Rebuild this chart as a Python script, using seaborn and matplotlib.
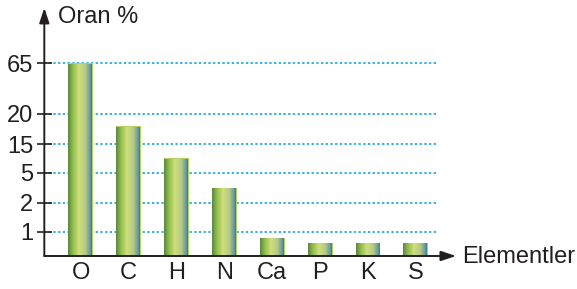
import numpy as np
import pandas as pd
import matplotlib
matplotlib.use("Agg")
import matplotlib.pyplot as plt
import seaborn as sns
from matplotlib.colors import LinearSegmentedColormap

# ---- data ----
elements = ["O", "C", "H", "N", "Ca", "P", "K", "S"]
percent = [65, 18, 10, 3.5, 0.75, 0.55, 0.55, 0.55]
tick_values = [1, 2, 5, 15, 20, 65]
tick_labels = ["1", "2", "5", "15", "20", "65"]
# uneven (piecewise) value axis as drawn in the original
scale_values = [0, 1, 2, 5, 15, 20, 65]
scale_heights = [0, 24.3, 53.3, 83.3, 111.7, 142.0, 192.7]

sns.set_style("white")
plt.rcParams["font.family"] = ["Liberation Sans", "DejaVu Sans"]

ink = "#231f20"


def fwd(v):
    return np.interp(v, scale_values, scale_heights)


def inv(p):
    return np.interp(p, scale_heights, scale_values)


df = pd.DataFrame({"Element": elements, "Oran": percent})

fig = plt.figure(figsize=(5.77, 2.89), dpi=100)
ax = fig.add_axes([0.0768, 0.1142, 0.6789, 0.667])
ax.set_yscale("function", functions=(fwd, inv))

sns.barplot(data=df, x="Element", y="Oran", ax=ax, width=0.52,
            color="#b5cf62", saturation=1, zorder=3)

cmap = LinearSegmentedColormap.from_list(
    "bar",
    [(0.0, "#5b8e34"), (0.14, "#8ab548"), (0.42, "#cfe07a"),
     (0.68, "#b4c98a"), (0.86, "#6c9c9e"), (1.0, "#1c6689")])
grad = np.linspace(0, 1, 256).reshape(1, -1)
for p in list(ax.patches):
    x0, y0 = p.get_x(), p.get_y()
    w, h = p.get_width(), p.get_height()
    im = ax.imshow(grad, extent=(x0, x0 + w, y0, y0 + h), aspect="auto",
                   cmap=cmap, zorder=3, interpolation="bilinear")
    im.set_clip_path(p)
    p.set_edgecolor("none")

ax.set_xlim(-0.76, 7.42)
ax.set_ylim(0, 65)

for s in ax.spines.values():
    s.set_visible(False)

ax.set_yticks(tick_values)
ax.set_yticklabels(tick_labels)
ax.yaxis.set_minor_locator(matplotlib.ticker.NullLocator())
ax.tick_params(axis="y", direction="inout", length=10.8, width=1.2,
               color=ink, pad=2.4, labelsize=17, labelcolor=ink, left=True)
ax.tick_params(axis="x", length=0, pad=4.5, labelsize=17, labelcolor=ink)
ax.set_xlabel("")
ax.set_ylabel("")

ax.yaxis.grid(True, linestyle=(0, (1.3, 1.3)), color="#29abe2", linewidth=1.3)
ax.xaxis.grid(False)
ax.set_axisbelow(True)
for gl in ax.get_ygridlines():
    gl.set_clip_on(False)

arrow = dict(arrowstyle="-|>,head_length=0.6,head_width=0.2", color=ink,
             lw=1.4, mutation_scale=15, shrinkA=0, shrinkB=0)
ax.annotate("", xy=(0, 1.287), xytext=(0, 0), xycoords="axes fraction",
            arrowprops=arrow, annotation_clip=False)
ax.annotate("", xy=(1.051, 0), xytext=(0, 0), xycoords="axes fraction",
            arrowprops=arrow, annotation_clip=False)

ax.text(0.035, 1.209, "Oran %", transform=ax.transAxes, fontsize=17,
        color=ink, ha="left", va="baseline")
ax.text(1.066, -0.038, "Elementler", transform=ax.transAxes, fontsize=17,
        color=ink, ha="left", va="baseline")

fig.savefig("out.png", dpi=100)
